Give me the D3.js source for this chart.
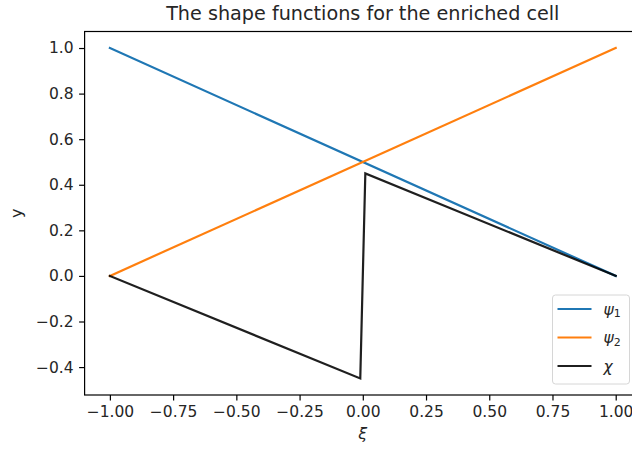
<!DOCTYPE html>
<html>
<head>
<meta charset="utf-8">
<script src="https://cdn.jsdelivr.net/npm/d3@7"></script>
<style>
  html, body { margin: 0; padding: 0; background: #fff; }
  svg { display: block; font-family: "DejaVu Sans", sans-serif; }
</style>
</head>
<body>
<svg id="chart" width="632" height="450"></svg>
<script>
// Node coordinates along the reference element
const xiNodes = [-1, 1];
// Standard linear shape functions
const psi1 = [1, 0];
const psi2 = [0, 1];
// Enrichment function with the jump at xi = 0
const xiChi = [-1, -0.01, 0.01, 1];
const chi = [0, -0.45, 0.45, 0];

const xTicks = [-1.0, -0.75, -0.5, -0.25, 0.0, 0.25, 0.5, 0.75, 1.0];
const yTicks = [-0.4, -0.2, 0.0, 0.2, 0.4, 0.6, 0.8, 1.0];

const seriesNames = ["ψ1", "ψ2", "χ"];
const colors = ["#1f77b4", "#ff7f0e", "#000000"];

const svg = d3.select("#chart");
const plot = { left: 84.6, right: 641, top: 31.5, bottom: 395 };

// Axis limits padded by 5% of the data span, matplotlib style
const allY = psi1.concat(psi2, chi);
const yMin = d3.min(allY), yMax = d3.max(allY);
const yPad = (yMax - yMin) * 0.05;
const xPad = (1 - (-1)) * 0.05;

const x = d3.scaleLinear().domain([-1 - xPad, 1 + xPad]).range([plot.left, plot.right]);
const y = d3.scaleLinear().domain([yMin - yPad, yMax + yPad]).range([plot.bottom, plot.top]);

const series = [
  { name: seriesNames[0], pts: xiNodes.map((d, i) => [d, psi1[i]]), color: colors[0] },
  { name: seriesNames[1], pts: xiNodes.map((d, i) => [d, psi2[i]]), color: colors[1] },
  { name: seriesNames[2], pts: xiChi.map((d, i) => [d, chi[i]]), color: colors[2] }
];

const line = d3.line().x(d => x(d[0])).y(d => y(d[1]));

svg.append("g").selectAll("path")
  .data(series)
  .join("path")
  .attr("d", d => line(d.pts))
  .attr("fill", "none")
  .attr("stroke", d => d.color)
  .attr("stroke-opacity", d => d.color === "#000000" ? 0.88 : 1)
  .attr("stroke-width", 2.2)
  .attr("stroke-linejoin", "miter")
  .attr("stroke-linecap", "square");

// Axes
const fmtX = d => d3.format(".2f")(d).replace("-", "−");
const fmtY = d => d3.format(".1f")(d).replace("-", "−");

const xAxis = svg.append("g")
  .attr("transform", `translate(0,${plot.bottom})`)
  .call(d3.axisBottom(x).tickValues(xTicks).tickFormat(fmtX).tickSize(5.5).tickPadding(5));
const yAxis = svg.append("g")
  .attr("transform", `translate(${plot.left},0)`)
  .call(d3.axisLeft(y).tickValues(yTicks).tickFormat(fmtY).tickSize(5.5).tickPadding(5.5));

[xAxis, yAxis].forEach(g => {
  g.select(".domain").remove();
  g.selectAll(".tick line").attr("stroke", "#000").attr("stroke-width", 1.2);
  g.selectAll(".tick text")
    .attr("fill", "#262626")
    .style("font-family", "DejaVu Sans")
    .style("font-size", "15.5px");
});

// Frame
svg.append("rect")
  .attr("x", plot.left).attr("y", plot.top)
  .attr("width", plot.right - plot.left).attr("height", plot.bottom - plot.top)
  .attr("fill", "none").attr("stroke", "#000").attr("stroke-width", 1.2);

// Title and axis labels
svg.append("text")
  .attr("x", (plot.left + plot.right) / 2).attr("y", 20)
  .attr("text-anchor", "middle")
  .attr("fill", "#262626")
  .style("font-size", "19.2px")
  .text("The shape functions for the enriched cell");

svg.append("text")
  .attr("x", (plot.left + plot.right) / 2).attr("y", 439)
  .attr("text-anchor", "middle")
  .attr("fill", "#262626")
  .style("font-size", "16px")
  .style("font-style", "italic")
  .text("ξ");

svg.append("text")
  .attr("transform", `translate(22,${(plot.top + plot.bottom) / 2}) rotate(-90)`)
  .attr("text-anchor", "middle")
  .attr("fill", "#262626")
  .style("font-size", "16px")
  .text("y");

// Legend, lower right
const legend = svg.append("g").attr("transform", "translate(552.5,295)");
legend.append("rect")
  .attr("width", 77).attr("height", 89)
  .attr("rx", 3).attr("ry", 3)
  .attr("fill", "#fff").attr("fill-opacity", 0.8)
  .attr("stroke", "#d6d6d6").attr("stroke-width", 1);

const rows = legend.selectAll("g.row")
  .data(series)
  .join("g")
  .attr("class", "row")
  .attr("transform", (d, i) => `translate(0,${14 + i * 28.5})`);
rows.append("line")
  .attr("x1", 5).attr("x2", 39)
  .attr("stroke", d => d.color)
  .attr("stroke-opacity", d => d.color === "#000000" ? 0.88 : 1)
  .attr("stroke-width", 2.2);
const lbl = rows.append("text")
  .attr("x", 51).attr("y", 5.5)
  .attr("fill", "#262626")
  .style("font-size", "15.5px")
  .style("font-style", "italic");
lbl.append("tspan").text(d => d.name.charAt(0));
lbl.append("tspan")
  .attr("dy", 2.5)
  .style("font-size", "11px")
  .style("font-style", "normal")
  .text(d => d.name.slice(1));
</script>
</body>
</html>
